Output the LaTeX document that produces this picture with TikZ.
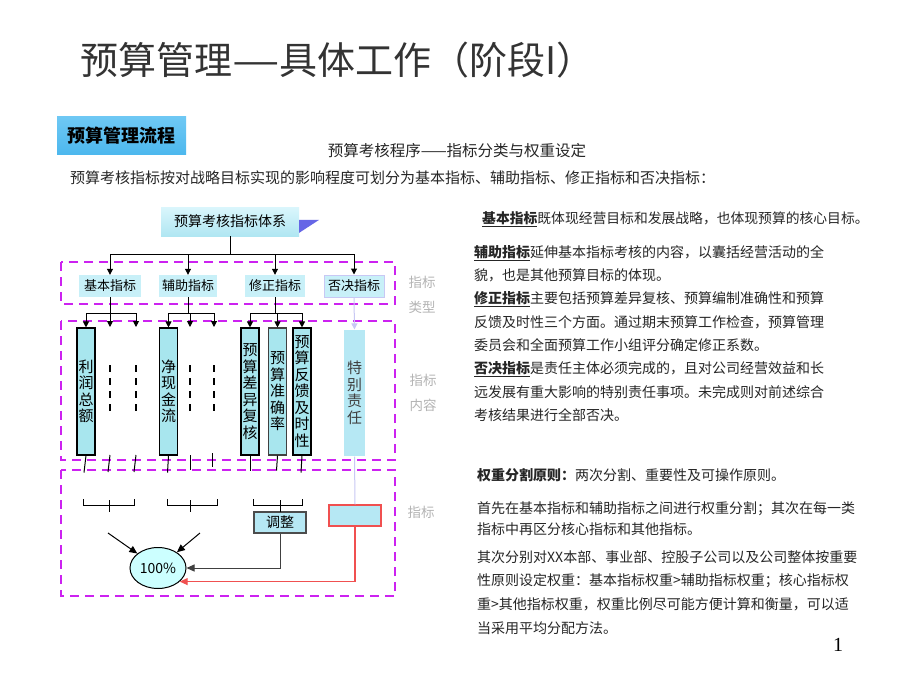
\documentclass[tikz,border=0pt]{standalone}
\usepackage{fontspec}
\setmainfont{Noto Sans CJK SC}
\newfontfamily\serifnum{Liberation Serif}
\usepackage{xcolor}
\usetikzlibrary{positioning, arrows.meta, shapes.geometric, calc}

\definecolor{catfill}{HTML}{C8F0F8}
\definecolor{boxcyan}{HTML}{A8E6EE}
\definecolor{palecyan}{HTML}{B6E8F4}
\definecolor{regionmag}{HTML}{CC22F0}
\definecolor{lavender}{HTML}{C8C8F4}
\definecolor{labelgray}{HTML}{B4B4B4}
\definecolor{redline}{HTML}{F05050}
\definecolor{triblue}{HTML}{6666E6}

\begin{document}
\begin{tikzpicture}[x=1pt, y=-1pt,
  cat/.style={rectangle, fill=catfill, draw=none, minimum height=22, inner sep=1pt,
    font=\fontsize{13}{13}\selectfont},
  cont/.style={rectangle, fill=boxcyan, draw=black, line width=1.1pt, minimum width=18,
    minimum height=127, inner sep=0pt, align=center, font=\fontsize{15}{16.5}\selectfont},
  region/.style={draw=regionmag, line width=2.2pt, dash pattern=on 9pt off 6pt},
  glabel/.style={text=labelgray, font=\fontsize{13.5}{13.5}\selectfont},
  txt/.style={inner sep=0pt, text=black!85, font=\fontsize{14}{23.3}\selectfont},
  conn/.style={line width=1pt, black},
  arr/.style={-{Triangle[length=6pt, width=6pt]}, line width=1pt, black},
  bigarr/.style={-{Triangle[length=8pt, width=7pt]}, line width=1pt},
  dashcol/.style={line width=2.4pt, dash pattern=on 7pt off 6pt}
]
\useasboundingbox (0,0) rectangle (920,690);
\fill[white] (0,0) rectangle (920,690);

% ==================== TITLES ====================
\node[anchor=west, inner sep=0pt, text=black!80, font=\fontsize{38}{38}\selectfont] (title) at (80,60) {预算管理\scalebox{1.4}[1]{—}具体工作（阶段I）};
\node[rectangle, minimum width=129, minimum height=37, inner sep=0pt,
  top color={rgb,255:red,110;green,200;blue,244}, middle color={rgb,255:red,214;green,241;blue,251},
  bottom color={rgb,255:red,77;green,184;blue,238}, font=\bfseries\fontsize{18}{18}\selectfont] (head) at (121.5,135.5) {预算管理流程};
\node[inner sep=0pt, text=black!85, font=\fontsize{15.5}{15.5}\selectfont] (subtitle) at (457,151) {预算考核程序——指标分类与权重设定};
\node[anchor=west, inner sep=0pt, text=black!85, font=\fontsize{15}{15}\selectfont] (intro) at (70,178) {预算考核指标按对战略目标实现的影响程度可划分为基本指标、辅助指标、修正指标和否决指标：};

% ==================== REGIONS ====================
\draw[region] (61,262) rectangle (395,304);
\draw[region] (61,321) rectangle (395,460);
\draw[region] (61,470) rectangle (395,596);
\node[glabel] (lbl1a) at (422,282) {指标};
\node[glabel] (lbl1b) at (422,307) {类型};
\node[glabel] (lbl2a) at (423,380) {指标};
\node[glabel] (lbl2b) at (423,405) {内容};
\node[glabel] (lbl3) at (421,512) {指标};

% ==================== NODES ====================
\node[rectangle, minimum width=138, minimum height=29, inner sep=0pt,
  top color={rgb,255:red,218;green,246;blue,252}, bottom color={rgb,255:red,176;green,230;blue,242},
  font=\fontsize{14}{14}\selectfont] (sys) at (230,221.5) {预算考核指标体系};
\fill[triblue] ($(sys.north east)+(0,13)$) -- ++(20,0) -- ++(-20,13) -- cycle;

\node[cat, minimum width=62] (basic) at (110,286) {基本指标};
\node[cat, minimum width=58] (aux) at (188,286) {辅助指标};
\node[cat, minimum width=60] (corr) at (275,286) {修正指标};
\node[cat, minimum width=60, draw=lavender, line width=1pt] (veto) at (354,286) {否决指标};

\node[cont] (profit) at (86,391.5) {利\\润\\总\\额};
\node[cont] (netcash) at (168.5,391.5) {净\\现\\金\\流};
\node[cont] (var) at (250,391.5) {预\\算\\差\\异\\复\\核};
\node[cont, draw=black!75] (acc) at (277.5,391.5) {预\\算\\准\\确\\率};
\node[cont] (fb) at (302,391.5) {预\\算\\反\\馈\\及\\时\\性};
\node[cont, draw=none, fill=palecyan, minimum width=21, minimum height=126, text=black!75] (tres) at (354.5,393) {特\\别\\责\\任};

\node[rectangle, fill=palecyan, draw=black!70, line width=1.5pt, minimum width=52, minimum height=21,
  inner sep=0pt, font=\fontsize{14}{14}\selectfont] (adjust) at (280,522.5) {调整};
\node[rectangle, fill=palecyan, draw=redline, line width=1.2pt, minimum width=52, minimum height=21] (redbox) at (355,515.5) {};
\node[ellipse, fill={rgb,255:red,204;green,255;blue,255}, draw=black, line width=1pt, minimum width=56,
  minimum height=41, inner sep=0pt, font=\fontsize{14}{14}\selectfont] (total) at (158,568) {100\%};

% ==================== CONNECTIONS ====================
% system to categories
\coordinate (busL) at (110,254);
\coordinate (busR) at (354,254);
\draw[conn] (sys.south) -- (sys.south |- busL);
\draw[conn] (busL) -- (busR);
\draw[arr] (busL) -- (basic.north);
\draw[arr] (aux.north |- busL) -- (aux.north);
\draw[arr] (corr.north |- busL) -- (corr.north);
\draw[arr] (busR) -- (veto.north);

% categories to contents
\coordinate (dA) at (110,327);
\coordinate (dB) at (136,327);
\coordinate (dC) at (190,327);
\coordinate (dD) at (214,327);
\draw[conn] (basic.south) -- (basic.south |- 0,313);
\draw[conn] (profit.north |- 0,313) -- (dB |- 0,313);
\draw[arr] (profit.north |- 0,313) -- (profit.north);
\draw[arr] (dA |- 0,313) -- (dA);
\draw[arr] (dB |- 0,313) -- (dB);
\draw[conn] (aux.south) -- (aux.south |- 0,313);
\draw[conn] (netcash.north |- 0,313) -- (dD |- 0,313);
\draw[arr] (netcash.north |- 0,313) -- (netcash.north);
\draw[arr] (dC |- 0,313) -- (dC);
\draw[arr] (dD |- 0,313) -- (dD);
\draw[conn] (corr.south) -- (corr.south |- 0,313);
\draw[conn] (var.north |- 0,313) -- (fb.north |- 0,313);
\draw[arr] (var.north |- 0,313) -- (var.north);
\draw[arr] (acc.north |- 0,313) -- (acc.north);
\draw[arr] (fb.north |- 0,313) -- (fb.north);
\draw[-{Triangle[length=6pt, width=6pt]}, lavender, line width=1pt] (veto.south) -- (tres.north);
\draw[lavender, line width=1pt] (tres.south) -- (redbox.north);

% dashed columns
\foreach \d in {dA, dB, dC, dD}
  \draw[dashcol] ($(\d)+(0,38)$) -- ($(\d)+(0,85)$);

% short fragments below contents
\draw[conn] (profit.south) -- ++(-2,17);
\draw[conn] ($(dA)+(0,128)$) -- ++(-2,17);
\draw[conn] ($(dB)+(0,128)$) -- ++(-2,17);
\draw[conn] (netcash.south) -- ++(-1,17);
\draw[conn] ($(dC)+(0,128)$) -- ++(0,15);
\draw[conn] ($(dD)+(-2,126)$) -- ++(0,14);
\draw[conn] (var.south) -- ++(0,15);
\draw[conn] (acc.south) -- ++(-1,15);
\draw[conn] (fb.south) -- ++(-1,17);

% brackets
\foreach \l/\r/\c in {83/134/109, 167/217/190, 253/302/280} {
  \draw[conn] (\l,499) -- (\l,505) -- (\r,505) -- (\r,499);
  \draw[conn] (\c,500) -- (\c,512);
}

% into total
\coordinate (inL) at (108,533);
\coordinate (inR) at (200,533);
\draw[bigarr, black] (inL) -- (total);
\draw[bigarr, black] (inR) -- (total);
\draw[bigarr, black!75] (adjust.south) |- (total.east);
\draw[bigarr, redline, line width=1.2pt] (redbox.south) |- (total.-32);

% ==================== RIGHT TEXT ====================
\node[txt, anchor=west, font=\fontsize{13.8}{13.8}\selectfont] (t1) at (482,219)
  {\underline{\textbf{基本指标}}既体现经营目标和发展战略，也体现预算的核心目标。};
\node[txt, anchor=north west, align=left] (t2) at (474,245)
  {\underline{\textbf{辅助指标}}延伸基本指标考核的内容，以囊括经营活动的全\\
   貌，也是其他预算目标的体现。\\
   \underline{\textbf{修正指标}}主要包括预算差异复核、预算编制准确性和预算\\
   反馈及时性三个方面。通过期末预算工作检查，预算管理\\
   委员会和全面预算工作小组评分确定修正系数。\\
   \underline{\textbf{否决指标}}是责任主体必须完成的，且对公司经营效益和长\\
   远发展有重大影响的特别责任事项。未完成则对前述综合\\
   考核结果进行全部否决。};

\node[txt, anchor=west] (w1) at (477,475) {\textbf{权重分割原则：}两次分割、重要性及可操作原则。};
\node[txt, anchor=north west, align=left, font=\fontsize{14}{21.5}\selectfont] (w2) at (477,501)
  {首先在基本指标和辅助指标之间进行权重分割；其次在每一类\\
   指标中再区分核心指标和其他指标。};
\node[txt, anchor=north west, align=left, font=\fontsize{14}{23.7}\selectfont] (w3) at (477,550)
  {其次分别对XX本部、事业部、控股子公司以及公司整体按重要\\
   性原则设定权重：基本指标权重>辅助指标权重；核心指标权\\
   重>其他指标权重，权重比例尽可能方便计算和衡量，可以适\\
   当采用平均分配方法。};

\node[inner sep=0pt, font=\serifnum\fontsize{20}{20}\selectfont] (pg) at (838,645) {1};
\end{tikzpicture}
\end{document}
